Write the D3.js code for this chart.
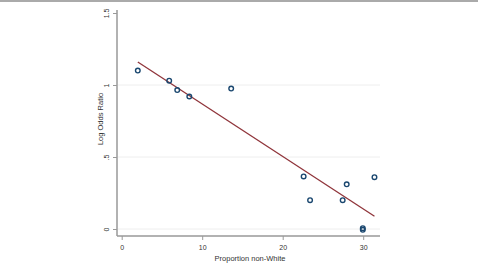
<!DOCTYPE html>
<html>
<head>
<meta charset="utf-8">
<script src="https://cdn.jsdelivr.net/npm/d3@7"></script>
<style>
  body { margin: 0; background: #fff; }
  text { font-family: "Liberation Sans", Arial, sans-serif; fill: #333; }
</style>
</head>
<body>
<script>
// Data
var propNonWhite = [2.0, 5.9, 6.9, 8.4, 13.6, 22.6, 23.4, 27.45, 27.95, 29.95, 29.95, 31.4];
var logOdds      = [1.10, 1.03, 0.965, 0.92, 0.975, 0.365, 0.20, 0.20, 0.31, 0.006, -0.006, 0.36];
var fitX = [2.0, 31.4];
var fitY = [1.16, 0.088];
var xTicks = [0, 10, 20, 30];
var yTicks = [0, 0.5, 1, 1.5];
var yTickLabels = ["0", ".5", "1", "1.5"];

var width = 478, height = 263;

var svg = d3.select("body").append("svg")
    .attr("width", width)
    .attr("height", height);

// thin gray frame line at top
svg.append("rect")
    .attr("x", 0).attr("y", 0)
    .attr("width", width).attr("height", 2)
    .attr("fill", "#aaa");

var x = d3.scaleLinear().domain([0, 30]).range([121.7, 363.2]);
var y = d3.scaleLinear().domain([0, 1.5]).range([229, 13]);

// gridlines
svg.append("g")
  .selectAll("line")
  .data(yTicks.slice(0, 3))
  .enter().append("line")
    .attr("x1", 118).attr("x2", 380)
    .attr("y1", d => y(d)).attr("y2", d => y(d))
    .attr("stroke", "#eeeeee")
    .attr("stroke-width", 1);

// X axis
var xAxis = svg.append("g")
    .attr("transform", "translate(0,236)")
    .call(d3.axisBottom(x).tickValues(xTicks).tickSize(4).tickFormat(d3.format("d")));
xAxis.select(".domain").attr("d", "M117,0H380").attr("stroke", "#999").attr("stroke-width", 1.5);
xAxis.selectAll(".tick line").attr("stroke", "#999");
xAxis.selectAll(".tick text").attr("dy", 0).attr("y", 14).style("font-size", "7px").attr("fill", "#333");

// Y axis
var yAxis = svg.append("g")
    .attr("transform", "translate(117,0)")
    .call(d3.axisLeft(y).tickValues(yTicks).tickSize(4).tickFormat((d, i) => yTickLabels[i]));
yAxis.select(".domain").attr("d", "M0,10V236").attr("stroke", "#999").attr("stroke-width", 1.5);
yAxis.selectAll(".tick line").attr("stroke", "#999");
yAxis.selectAll(".tick text")
    .attr("x", null).attr("dy", null)
    .attr("transform", "translate(-8,0) rotate(-90)")
    .attr("text-anchor", "middle")
    .style("font-size", "7px")
    .attr("fill", "#333");

// axis titles
svg.append("text")
    .attr("x", 250).attr("y", 261)
    .attr("text-anchor", "middle")
    .style("font-size", "7.5px")
    .text("Proportion non-White");

svg.append("text")
    .attr("transform", "translate(103,119) rotate(-90)")
    .attr("text-anchor", "middle")
    .style("font-size", "7.5px")
    .text("Log Odds Ratio");

// fitted line
svg.append("line")
    .attr("x1", x(fitX[0])).attr("y1", y(fitY[0]))
    .attr("x2", x(fitX[1])).attr("y2", y(fitY[1]))
    .attr("stroke", "#90353b")
    .attr("stroke-width", 1.3);

// points
svg.append("g")
  .selectAll("circle")
  .data(propNonWhite.map((d, i) => [d, logOdds[i]]))
  .enter().append("circle")
    .attr("cx", d => x(d[0]))
    .attr("cy", d => y(d[1]))
    .attr("r", 2.3)
    .attr("fill", "none")
    .attr("stroke", "#1a476f")
    .attr("stroke-width", 1.4);
</script>
</body>
</html>
